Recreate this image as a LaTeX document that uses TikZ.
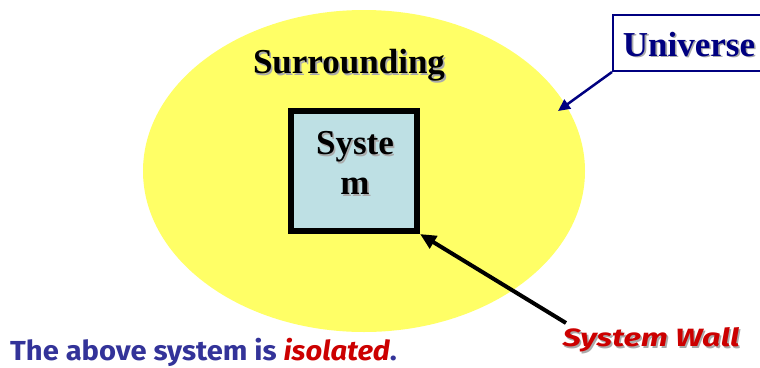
\documentclass[tikz,border=0pt]{standalone}
\usepackage{fontspec}
\setmainfont{Liberation Serif}
\newfontfamily\comicfont[FakeStretch=1.06]{Fira Sans}
\newfontfamily\widecomic[FakeStretch=1.3]{Fira Sans}
\usetikzlibrary{arrows.meta}
\definecolor{surryellow}{HTML}{FFFF66}
\definecolor{sysblue}{HTML}{BEE0E4}
\definecolor{univnavy}{HTML}{000080}
\definecolor{textnavy}{HTML}{333399}
\definecolor{wallred}{HTML}{CC0000}
\definecolor{shadowgray}{HTML}{AAAAAA}
\newcommand\shtext[1]{\makebox[0pt][l]{\hspace{1.6pt}\raisebox{-1.6pt}{\color{shadowgray}#1}}#1}
\tikzset{
  bigserif/.style={font=\fontsize{35}{38}\selectfont\bfseries, inner sep=0pt},
  wallarrow/.style={line width=4pt, -{Triangle[length=16pt,width=14pt]}},
  univarrow/.style={univnavy, line width=2.5pt, -{Triangle[length=12pt,width=11pt]}},
}
\begin{document}
\begin{tikzpicture}[x=1pt,y=-1pt]
\useasboundingbox (0,0) rectangle (760,367);
\clip (0,0) rectangle (760,367);
\fill[white] (0,0) rectangle (760,367);
% surrounding ellipse
\fill[surryellow] (364,171) ellipse [x radius=221, y radius=161];
\node[bigserif] (surr) at (349,66) {\shtext{Surrounding}};
% system box
\node[draw=black, line width=6pt, fill=sysblue, minimum width=126pt, minimum height=120pt, inner sep=0pt] (sys) at (354,171) {};
\node[bigserif, align=center] (systext) at (355,164) {\shtext{Syste}\\[2pt]\shtext{m}};
% universe box
\node[draw=univnavy, line width=2pt, fill=white, minimum width=160pt, minimum height=56pt, inner sep=0pt, anchor=south west] (univ) at (612,72) {};
\node[bigserif, text=univnavy] (univtext) at (689,45) {\shtext{Universe}};
\coordinate (univtip) at (558,111);
\draw[univarrow] (univ.south west) -- (univtip);
% system wall
\node[font=\fontsize{25}{28}\selectfont\bfseries\itshape\widecomic, text=wallred, inner sep=0pt] (wall) at (651,341) {\shtext{System Wall}};
\coordinate (wallstart) at (566,323);
\draw[wallarrow] (wallstart) -- (sys.south east);
% bottom text
\node[font=\fontsize{27.5}{30}\selectfont\bfseries\comicfont, text=textnavy, anchor=west, inner sep=0pt] (note) at (10,352) {The above system is \textcolor{wallred}{\itshape isolated}.};
\end{tikzpicture}
\end{document}
